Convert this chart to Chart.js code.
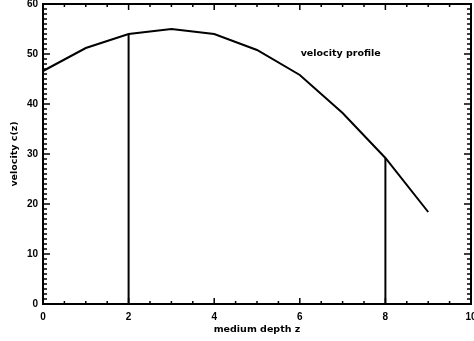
<!DOCTYPE html>
<html>
<head>
<meta charset="utf-8">
<script src="https://cdn.jsdelivr.net/npm/chart.js@4"></script>
<style>
  html, body { margin: 0; padding: 0; background: #fff; }
  #wrap { width: 474px; height: 341px; }
</style>
</head>
<body>
<div id="wrap"><canvas id="profile"></canvas></div>
<script>
// velocity profile c(z) against medium depth z
var depth = [0, 1, 2, 3, 4, 5, 6, 7, 8, 9];
var velocity = [46.6, 51.2, 54.0, 55.0, 54.0, 50.8, 45.8, 38.2, 29.2, 18.4];
// depths where a vertical drop line is drawn down to the axis
var markDepths = [2, 8];
var xTicks = [0, 2, 4, 6, 8, 10];
var yTicks = [0, 10, 20, 30, 40, 50, 60];
var curveLabel = "velocity profile";

var font = { family: "'Liberation Sans', Arial, sans-serif", weight: "bold", size: 10 };
var titleFont = { family: "'DejaVu Sans', sans-serif", weight: "bold", size: 9.5 };

var curve = [];
for (var i = 0; i < depth.length; i++) {
	curve.push({ x: depth[i], y: velocity[i] });
}

var datasets = [{
	data: curve,
	borderColor: "#000",
	borderWidth: 2,
	pointRadius: 0,
	showLine: true,
	tension: 0
}];
markDepths.forEach(function (d) {
	var v = velocity[depth.indexOf(d)];
	datasets.push({
		data: [{ x: d, y: 0 }, { x: d, y: v }],
		borderColor: "#000",
		borderWidth: 2,
		pointRadius: 0,
		showLine: true
	});
});

// box and inward tick marks on all four sides, IDL style
var frame = {
	id: "frame",
	afterDatasetsDraw: function (chart) {
		var ctx = chart.ctx, a = chart.chartArea;
		var xs = chart.scales.x, ys = chart.scales.y;
		ctx.save();
		ctx.strokeStyle = "#000";
		ctx.lineWidth = 2;
		ctx.strokeRect(a.left, a.top, a.right - a.left, a.bottom - a.top);
		ctx.lineWidth = 1.5;
		ctx.beginPath();
		for (var v = 0; v <= 60; v += 1) {
			var py = ys.getPixelForValue(v);
			var len = v % 10 === 0 ? 7 : 4;
			ctx.moveTo(a.left, py); ctx.lineTo(a.left + len, py);
			ctx.moveTo(a.right, py); ctx.lineTo(a.right - len, py);
		}
		for (var z = 0; z <= 10; z += 0.5) {
			var px = xs.getPixelForValue(z);
			var l2 = z % 2 === 0 ? 6 : 3;
			ctx.moveTo(px, a.bottom); ctx.lineTo(px, a.bottom - l2);
			ctx.moveTo(px, a.top); ctx.lineTo(px, a.top + l2);
		}
		ctx.stroke();
		ctx.fillStyle = "#000";
		ctx.font = "bold 9.5px 'DejaVu Sans', sans-serif";
		ctx.textBaseline = "middle";
		ctx.fillText(curveLabel, xs.getPixelForValue(6.02), ys.getPixelForValue(50.0));
		ctx.restore();
	}
};

new Chart(document.getElementById("profile"), {
	type: "scatter",
	data: { datasets: datasets },
	options: {
		responsive: true,
		maintainAspectRatio: false,
		animation: false,
		layout: { padding: { top: 4, right: 3, left: 0, bottom: 0 } },
		plugins: { legend: { display: false }, tooltip: { enabled: false } },
		scales: {
			x: {
				type: "linear",
				min: 0, max: 10,
				afterBuildTicks: function (s) { s.ticks = xTicks.map(function (v) { return { value: v }; }); },
				afterFit: function (s) { s.height = 37; s.paddingLeft = 0; s.paddingRight = 0; },
				grid: { display: false, drawTicks: false },
				border: { display: false },
				ticks: { color: "#000", font: font, padding: 7, maxRotation: 0 },
				title: { display: true, text: "medium depth z", color: "#000", font: titleFont, padding: { top: 0, bottom: 6 } }
			},
			y: {
				type: "linear",
				min: 0, max: 60,
				afterBuildTicks: function (s) { s.ticks = yTicks.map(function (v) { return { value: v }; }); },
				afterFit: function (s) { s.width = 43; s.paddingTop = 0; s.paddingBottom = 0; },
				grid: { display: false, drawTicks: false },
				border: { display: false },
				ticks: { color: "#000", font: font, padding: 5 },
				title: { display: true, text: "velocity c(z)", color: "#000", font: titleFont, padding: { top: 9, bottom: 0 } }
			}
		}
	},
	plugins: [frame]
});
</script>
</body>
</html>
